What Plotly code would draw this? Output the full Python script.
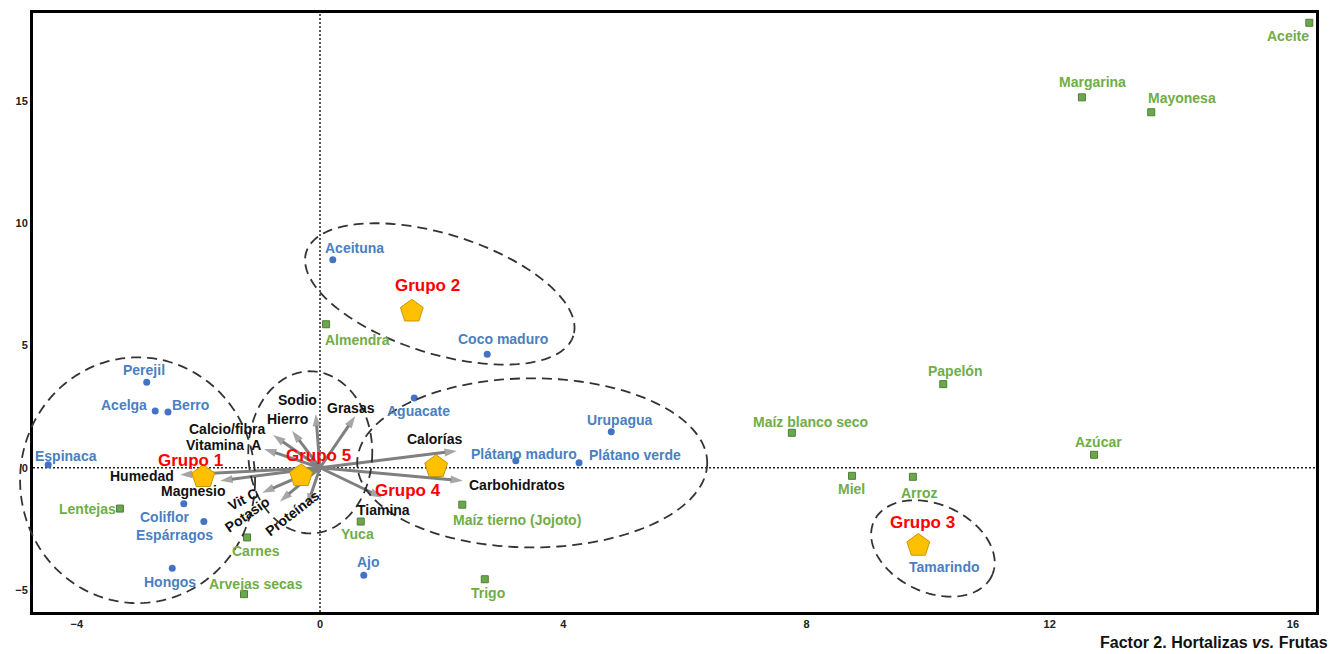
import numpy as np
import plotly.graph_objects as go

# ---------------- data ----------------
blue_names = ["Espinaca", "Perejil", "Acelga", "Berro", "Coliflor", "Espárragos", "Hongos",
              "Aceituna", "Coco maduro", "Aguacate", "Urupagua", "Plátano maduro",
              "Plátano verde", "Ajo", "Tamarindo"]
blue_x = [-4.47, -2.85, -2.71, -2.50, -2.24, -1.91, -2.43, 0.21, 2.75, 1.55, 4.79, 3.22, 4.26, 0.72, 9.84]
blue_y = [0.12, 3.50, 2.32, 2.28, -1.47, -2.20, -4.11, 8.51, 4.64, 2.85, 1.47, 0.29, 0.20, -4.40, -3.18]

green_names = ["Aceite", "Margarina", "Mayonesa", "Papelón", "Maíz blanco seco", "Azúcar", "Miel",
               "Arroz", "Almendra", "Maíz tierno (Jojoto)", "Trigo", "Yuca", "Lentejas", "Carnes",
               "Arvejas secas"]
green_x = [16.27, 12.53, 13.67, 10.25, 7.76, 12.73, 8.75, 9.75, 0.10, 2.34, 2.71, 0.67, -3.29, -1.20, -1.25]
green_y = [18.20, 15.15, 14.54, 3.42, 1.43, 0.53, -0.33, -0.37, 5.87, -1.51, -4.56, -2.20, -1.67, -2.85, -5.17]

group_names = ["Grupo 1", "Grupo 2", "Grupo 3", "Grupo 4", "Grupo 5"]
group_x = [-1.92, 1.51, 9.84, 1.91, -0.31]
group_y = [-0.37, 6.40, -3.18, 0.04, -0.33]

var_names = ["Humedad", "Magnesio", "Vitamina  A", "Calcio/fibra", "Hierro", "Sodio", "Grasas",
             "Vit C", "Potasio", "Proteínas", "Calorías", "Carbohidratos", "Tiamina"]
var_x = [-2.30, -1.64, -0.92, -0.77, -0.46, -0.07, 0.58, -0.95, -0.66, -0.21, 2.25, 2.35, 1.02]
var_y = [-0.29, -0.53, 0.77, 1.34, 1.51, 2.20, 2.12, -1.02, -1.38, -1.55, 0.69, -0.53, -1.22]

x_ticks = [-4, 0, 4, 8, 12, 16]
y_ticks = [-5, 0, 5, 10, 15]

# ---------------- layout / style ----------------
W, H = 1338, 654
ML, MR, MT, MB = 33, 22, 10, 42
XR = [-4.72, 16.38]
YR = [-5.9, 18.6]
PW, PH = W - ML - MR, H - MT - MB
PX_X = PW / (XR[1] - XR[0])
PX_Y = PH / (YR[1] - YR[0])

FONT = "Liberation Sans, Arial, sans-serif"
BLUE_TXT = "#4a7fc1"
BLUE_MK = "#4472c4"
GREEN_TXT = "#70ad47"
GREEN_MK = "#6aa84f"
RED = "#ff0000"
GREY = "#808080"

# label pixel offsets (dx right, dy up)
blue_off = {"Espinaca": (18, 9), "Perejil": (-3, 12), "Acelga": (-31, 6), "Berro": (23, 7),
            "Coliflor": (-19, -13), "Espárragos": (-29, -13), "Hongos": (-2, -14),
            "Aceituna": (22, 12), "Coco maduro": (16, 15), "Aguacate": (4, -13),
            "Urupagua": (9, 12), "Plátano maduro": (8, 7), "Plátano verde": (56, 8),
            "Ajo": (5, 13), "Tamarindo": (26, -21)}
green_off = {"Aceite": (-21, -13), "Margarina": (11, 15), "Mayonesa": (31, 14), "Papelón": (12, 13),
             "Maíz blanco seco": (19, 11), "Azúcar": (4, 13), "Miel": (-1, -13), "Arroz": (7, -16),
             "Almendra": (31, -16), "Maíz tierno (Jojoto)": (55, -15), "Trigo": (3, -14),
             "Yuca": (-3, -12), "Lentejas": (-32, 0), "Carnes": (9, -14), "Arvejas secas": (12, 10)}
group_off = {"Grupo 1": (-13, 16), "Grupo 2": (16, 26), "Grupo 3": (4, 23),
             "Grupo 4": (-28, -24), "Grupo 5": (17, 20)}
var_off = {"Humedad": (-38, -1, 0), "Magnesio": (-27, -10, 0), "Vitamina  A": (-41, 4, 0),
           "Calcio/fibra": (-46, 6, 0), "Hierro": (-5, 12, 0), "Sodio": (-18, 14, 0),
           "Grasas": (-4, 8, 0), "Vit C": (-19, -6, -28), "Potasio": (-32, -13, -35),
           "Proteínas": (-15, -7, -38), "Calorías": (-22, 12, 0), "Carbohidratos": (54, -4, 0),
           "Tiamina": (1, -12, 0)}

# ellipses: centre (data), semi-axes (px), tilt (deg, clockwise on screen)
ellipses = [((-3.00, -0.51), 117.5, 123.5, 0),
            ((1.97, 7.11), 140, 60, 17.5),
            ((10.08, -3.30), 65, 44, 25),
            ((3.49, 0.20), 175, 85, 0),
            ((-0.16, 0.63), 62, 81.5, 0)]

fig = go.Figure()

# ellipses as paper-referenced paths (so they may run past the frame like the original)
shapes = []
t = np.linspace(0, 2 * np.pi, 200)
for (cx, cy), a, b, th in ellipses:
    r = np.deg2rad(th)
    px = a * np.cos(t) * np.cos(r) - b * np.sin(t) * np.sin(r)
    py = a * np.cos(t) * np.sin(r) + b * np.sin(t) * np.cos(r)
    ex = (cx - XR[0]) / (XR[1] - XR[0]) + px / PW
    ey = (cy - YR[0]) / (YR[1] - YR[0]) - py / PH
    path = "M " + " L ".join(f"{u:.5f},{v:.5f}" for u, v in zip(ex, ey)) + " Z"
    shapes.append(dict(type="path", xref="paper", yref="paper", path=path,
                       line=dict(color="#333333", width=1.8, dash="10px,6px"), layer="above"))

# arrows
for name, vx, vy in zip(var_names, var_x, var_y):
    fig.add_trace(go.Scatter(x=[0, vx], y=[0, vy], mode="lines+markers",
                             line=dict(color=GREY, width=3),
                             marker=dict(symbol="arrow", size=[0, 13], angleref="previous",
                                         color=GREY, line=dict(width=0)),
                             hoverinfo="skip", showlegend=False))

# points
fig.add_trace(go.Scatter(x=blue_x, y=blue_y, mode="markers",
                         marker=dict(symbol="circle", size=7, color=BLUE_MK),
                         text=blue_names, showlegend=False))
fig.add_trace(go.Scatter(x=green_x, y=green_y, mode="markers",
                         marker=dict(symbol="square", size=7, color=GREEN_MK,
                                     line=dict(color="#4e7f32", width=1)),
                         text=green_names, showlegend=False))
fig.add_trace(go.Scatter(x=group_x, y=group_y, mode="markers",
                         marker=dict(symbol="pentagon", size=24, color="#ffc000",
                                     line=dict(color="#c99700", width=1)),
                         text=group_names, showlegend=False))

ann = []


def lab(x, y, text, color, size, dx, dy, angle=0):
    ann.append(dict(x=x, y=y, xref="x", yref="y", text=text, showarrow=False,
                    xshift=dx, yshift=dy, textangle=angle,
                    font=dict(family=FONT, size=size, color=color, weight="bold")))


for n, x, y in zip(blue_names, blue_x, blue_y):
    dx, dy = blue_off[n]
    lab(x, y, n, BLUE_TXT, 14, dx, dy)
for n, x, y in zip(green_names, green_x, green_y):
    dx, dy = green_off[n]
    lab(x, y, n, GREEN_TXT, 14, dx, dy)
for n, x, y in zip(group_names, group_x, group_y):
    dx, dy = group_off[n]
    lab(x, y, n, RED, 17, dx, dy)
for n, x, y in zip(var_names, var_x, var_y):
    dx, dy, ang = var_off[n]
    lab(x, y, n, "#111111", 14, dx, dy, ang)

ann.append(dict(x=(1330 - ML) / PW, y=(H - MB - 643) / PH,
                xref="paper", yref="paper", xanchor="right", yanchor="middle",
                text="Factor 2. Hortalizas <i>vs.</i> Frutas", showarrow=False,
                font=dict(family=FONT, size=16, color="#111111", weight="bold")))

shapes += [
    dict(type="line", xref="x", yref="paper", x0=0, x1=0, y0=0, y1=1,
         line=dict(color="#222222", width=1.5, dash="2px,2px"), layer="below"),
    dict(type="line", xref="paper", yref="y", x0=0, x1=1, y0=0, y1=0,
         line=dict(color="#222222", width=1.5, dash="2px,2px"), layer="below"),
]

axis_common = dict(showgrid=False, zeroline=False, showline=True, mirror=True,
                   linecolor="black", linewidth=3, ticks="",
                   tickfont=dict(family=FONT, size=11, color="#222222", weight="bold"))

fig.update_layout(
    width=W, height=H,
    margin=dict(l=ML, r=MR, t=MT, b=MB),
    paper_bgcolor="white", plot_bgcolor="white",
    xaxis=dict(range=XR, tickvals=x_ticks, **axis_common),
    yaxis=dict(range=YR, tickvals=y_ticks, **axis_common),
    annotations=ann, shapes=shapes,
)

fig.write_html("out.html", config={"displayModeBar": False},
               post_script="document.body.style.margin='0';document.body.style.overflow='hidden';")
